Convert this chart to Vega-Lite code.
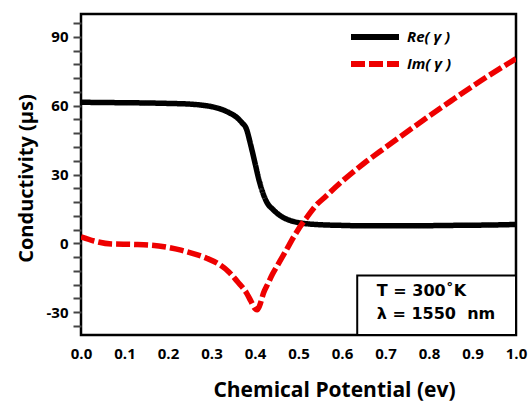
{
  "$schema": "https://vega.github.io/schema/vega-lite/v6.json",
  "autosize": {"type": "none"},
  "padding": {"left": 81, "top": 14, "right": 12, "bottom": 68},
  "width": 435,
  "height": 321,
  "background": "white",
  "config": {
    "view": {"stroke": "black", "strokeWidth": 2.5},
    "font": "Open Sans",
    "axis": {"grid": false, "domain": false, "labelFont": "Open Sans", "titleFont": "Open Sans", "labelFontWeight": "bold", "titleFontWeight": "bold", "labelColor": "black", "titleColor": "black"}
  },
  "datasets": {
    "curves": [
      {"mu": 0.00, "value": 61.5, "series": "Re( γ )"},
      {"mu": 0.05, "value": 61.4, "series": "Re( γ )"},
      {"mu": 0.10, "value": 61.3, "series": "Re( γ )"},
      {"mu": 0.15, "value": 61.2, "series": "Re( γ )"},
      {"mu": 0.20, "value": 61.0, "series": "Re( γ )"},
      {"mu": 0.25, "value": 60.7, "series": "Re( γ )"},
      {"mu": 0.28, "value": 60.2, "series": "Re( γ )"},
      {"mu": 0.30, "value": 59.6, "series": "Re( γ )"},
      {"mu": 0.32, "value": 58.6, "series": "Re( γ )"},
      {"mu": 0.34, "value": 57.0, "series": "Re( γ )"},
      {"mu": 0.36, "value": 54.6, "series": "Re( γ )"},
      {"mu": 0.37, "value": 52.6, "series": "Re( γ )"},
      {"mu": 0.38, "value": 50.0, "series": "Re( γ )"},
      {"mu": 0.39, "value": 43.0, "series": "Re( γ )"},
      {"mu": 0.40, "value": 35.0, "series": "Re( γ )"},
      {"mu": 0.41, "value": 27.0, "series": "Re( γ )"},
      {"mu": 0.42, "value": 21.0, "series": "Re( γ )"},
      {"mu": 0.43, "value": 17.0, "series": "Re( γ )"},
      {"mu": 0.44, "value": 15.0, "series": "Re( γ )"},
      {"mu": 0.45, "value": 13.2, "series": "Re( γ )"},
      {"mu": 0.46, "value": 11.8, "series": "Re( γ )"},
      {"mu": 0.48, "value": 10.0, "series": "Re( γ )"},
      {"mu": 0.50, "value": 9.0, "series": "Re( γ )"},
      {"mu": 0.52, "value": 8.5, "series": "Re( γ )"},
      {"mu": 0.55, "value": 8.1, "series": "Re( γ )"},
      {"mu": 0.60, "value": 7.8, "series": "Re( γ )"},
      {"mu": 0.65, "value": 7.6, "series": "Re( γ )"},
      {"mu": 0.75, "value": 7.6, "series": "Re( γ )"},
      {"mu": 0.85, "value": 7.8, "series": "Re( γ )"},
      {"mu": 0.95, "value": 8.0, "series": "Re( γ )"},
      {"mu": 1.00, "value": 8.2, "series": "Re( γ )"},
      {"mu": 0.00, "value": 2.8, "series": "Im( γ )"},
      {"mu": 0.03, "value": 1.0, "series": "Im( γ )"},
      {"mu": 0.07, "value": -0.3, "series": "Im( γ )"},
      {"mu": 0.12, "value": -0.5, "series": "Im( γ )"},
      {"mu": 0.16, "value": -0.8, "series": "Im( γ )"},
      {"mu": 0.20, "value": -1.8, "series": "Im( γ )"},
      {"mu": 0.23, "value": -3.0, "series": "Im( γ )"},
      {"mu": 0.26, "value": -4.6, "series": "Im( γ )"},
      {"mu": 0.29, "value": -6.6, "series": "Im( γ )"},
      {"mu": 0.32, "value": -9.5, "series": "Im( γ )"},
      {"mu": 0.34, "value": -12.5, "series": "Im( γ )"},
      {"mu": 0.36, "value": -16.8, "series": "Im( γ )"},
      {"mu": 0.38, "value": -21.5, "series": "Im( γ )"},
      {"mu": 0.39, "value": -25.0, "series": "Im( γ )"},
      {"mu": 0.40, "value": -28.5, "series": "Im( γ )"},
      {"mu": 0.405, "value": -29.0, "series": "Im( γ )"},
      {"mu": 0.41, "value": -27.5, "series": "Im( γ )"},
      {"mu": 0.42, "value": -21.5, "series": "Im( γ )"},
      {"mu": 0.43, "value": -17.5, "series": "Im( γ )"},
      {"mu": 0.44, "value": -13.5, "series": "Im( γ )"},
      {"mu": 0.45, "value": -10.2, "series": "Im( γ )"},
      {"mu": 0.47, "value": -3.6, "series": "Im( γ )"},
      {"mu": 0.49, "value": 3.1, "series": "Im( γ )"},
      {"mu": 0.51, "value": 9.0, "series": "Im( γ )"},
      {"mu": 0.52, "value": 11.5, "series": "Im( γ )"},
      {"mu": 0.54, "value": 16.5, "series": "Im( γ )"},
      {"mu": 0.56, "value": 20.0, "series": "Im( γ )"},
      {"mu": 0.60, "value": 27.0, "series": "Im( γ )"},
      {"mu": 0.65, "value": 34.8, "series": "Im( γ )"},
      {"mu": 0.70, "value": 41.8, "series": "Im( γ )"},
      {"mu": 0.77, "value": 51.4, "series": "Im( γ )"},
      {"mu": 0.85, "value": 62.0, "series": "Im( γ )"},
      {"mu": 0.92, "value": 71.0, "series": "Im( γ )"},
      {"mu": 1.00, "value": 80.5, "series": "Im( γ )"}
    ],
    "box": [{"x1": 0.635, "x2": 1.0, "y1": -40, "y2": -14}],
    "notes": [
      {"x": 0.68, "y": -21.0, "label": "T = 300˚K"},
      {"x": 0.68, "y": -31.0, "label": "λ = 1550\u00a0 nm"}
    ]
  },
  "layer": [
    {
      "data": {"name": "curves"},
      "mark": {"type": "line", "strokeWidth": 5.5, "interpolate": "monotone", "clip": true},
      "encoding": {
        "x": {
          "field": "mu", "type": "quantitative",
          "scale": {"domain": [0, 1], "nice": false, "zero": false},
          "axis": {"title": "Chemical Potential (ev)", "values": [0, 0.1, 0.2, 0.3, 0.4, 0.5, 0.6, 0.7, 0.8, 0.9, 1.0], "tickCount": 40, "format": ".1f", "ticks": false, "labelPadding": 11, "labelFontSize": 15, "labelOverlap": false, "titleFontSize": 21, "titlePadding": 18, "titleX": 253, "labelFlush": false}
        },
        "y": {
          "field": "value", "type": "quantitative",
          "scale": {"domain": [-40, 100], "nice": false, "zero": false},
          "axis": {"title": "Conductivity (µs)", "values": [-36, -30, -24, -18, -12, -6, 0, 6, 12, 18, 24, 30, 36, 42, 48, 54, 60, 66, 72, 78, 84, 90, 96], "tickCount": 60, "labelExpr": "datum.value % 30 === 0 ? ('' + datum.value) : ''", "labelOverlap": false, "labelBound": false, "tickSize": 8, "tickWidth": 2, "tickColor": "#444", "labelPadding": 5, "labelFontSize": 15, "titleFontSize": 20, "titlePadding": 10, "titleY": 164}
        },
        "color": {
          "field": "series", "type": "nominal",
          "scale": {"domain": ["Re( γ )", "Im( γ )"], "range": ["black", "#ee0000"]},
          "legend": {"title": null, "orient": "none", "legendX": 279, "legendY": 8, "symbolType": "M-2,0H2", "symbolSize": 576, "symbolStrokeWidth": 6, "labelFontSize": 15, "labelFontStyle": "italic", "labelFontWeight": "bold", "labelFont": "Open Sans", "rowPadding": -5, "labelOffset": 17}
        },
        "strokeDash": {
          "field": "series", "type": "nominal",
          "scale": {"domain": ["Re( γ )", "Im( γ )"], "range": [[1, 0], [14, 4]]},
          "legend": {"title": null, "orient": "none", "legendX": 279, "legendY": 8, "symbolType": "M-2,0H2", "symbolSize": 576, "symbolStrokeWidth": 6, "labelFontSize": 15, "labelFontStyle": "italic", "labelFontWeight": "bold", "labelFont": "Open Sans", "rowPadding": -5, "labelOffset": 17}
        }
      }
    },
    {
      "data": {"name": "box"},
      "mark": {"type": "rect", "fill": "white", "stroke": "black", "strokeWidth": 2},
      "encoding": {
        "x": {"field": "x1", "type": "quantitative"},
        "x2": {"field": "x2"},
        "y": {"field": "y1", "type": "quantitative"},
        "y2": {"field": "y2"}
      }
    },
    {
      "data": {"name": "notes"},
      "mark": {"type": "text", "align": "left", "baseline": "middle", "fontSize": 16, "fontWeight": "bold", "font": "DejaVu Sans", "color": "black"},
      "encoding": {
        "x": {"field": "x", "type": "quantitative"},
        "y": {"field": "y", "type": "quantitative"},
        "text": {"field": "label"}
      }
    }
  ]
}
